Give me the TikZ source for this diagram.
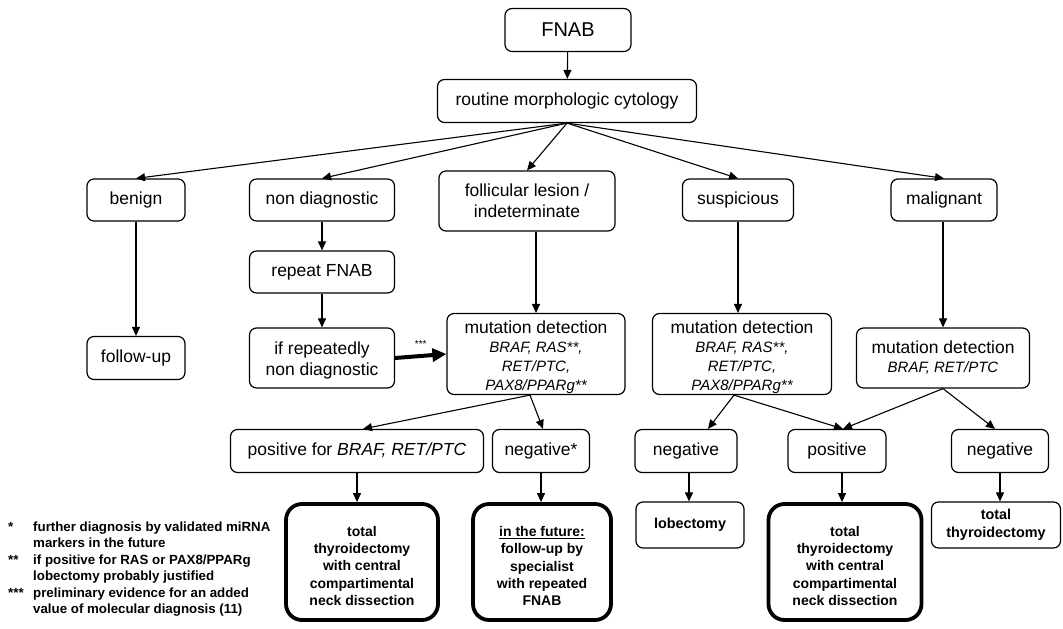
\documentclass[tikz,border=0pt]{standalone}
\usepackage{fontspec}
\setmainfont{Liberation Sans}
\usetikzlibrary{arrows.meta}

\begin{document}
\begin{tikzpicture}[x=1pt, y=-1pt,
      b/.style={draw, line width=1.2pt, rounded corners=7pt, inner sep=0pt, align=center, font=\fontsize{17.5}{21}\selectfont},
      bb/.style={draw, line width=3.8pt, rounded corners=16pt, inner sep=0pt, align=center, font=\bfseries\fontsize{14}{17.3}\selectfont},
      sb/.style={b, font=\bfseries\fontsize{14.4}{17.5}\selectfont},
      mut/.style={b, font=\itshape\fontsize{15}{19}\selectfont},
      nb/.style={font=\bfseries\fontsize{13.3}{16.5}\selectfont, align=left, inner sep=0pt},
      ar/.style={-{Triangle[length=9pt, width=8pt]}, line width=1.1pt},
      tar/.style={-{Triangle[length=14pt, width=13pt]}, line width=4pt}]
    \useasboundingbox (0,0) rectangle (1063,629);
    \node[b, minimum width=126pt, minimum height=43pt, font=\fontsize{20}{24}\selectfont] (fnab) at (568,30) {FNAB};
    \node[b, minimum width=259pt, minimum height=43pt] (cyt) at (567,101) {routine morphologic cytology};
    \node[b, minimum width=98pt, minimum height=42pt] (ben) at (136,200) {benign};
    \node[b, minimum width=145pt, minimum height=42pt] (nd) at (322,200) {non diagnostic};
    \node[b, minimum width=176pt, minimum height=60pt] (fol) at (527,201) {follicular lesion /\\indeterminate};
    \node[b, minimum width=111pt, minimum height=42pt] (sus) at (738,200) {suspicious};
    \node[b, minimum width=106pt, minimum height=42pt] (mal) at (944,200) {malignant};
    \node[b, minimum width=145pt, minimum height=42pt] (rep) at (322,272) {repeat FNAB};
    \node[b, minimum width=145pt, minimum height=60pt] (rep2) at (322,358) {\rule{0pt}{17pt}if repeatedly\\non diagnostic};
    \node[b, minimum width=98pt, minimum height=43pt] (fu) at (136,358) {follow-up};
    \node[mut, minimum width=178pt, minimum height=81pt] (mut1) at (536,354) {{\upshape\fontsize{17.5}{19}\selectfont\rule{0pt}{20pt}mutation detection}\\BRAF, RAS**,\\RET/PTC,\\PAX8/PPARg**};
    \node[mut, minimum width=179pt, minimum height=81pt] (mut2) at (742,354) {{\upshape\fontsize{17.5}{19}\selectfont\rule{0pt}{20pt}mutation detection}\\BRAF, RAS**,\\RET/PTC,\\PAX8/PPARg**};
    \node[mut, minimum width=173pt, minimum height=60pt] (mut3) at (943,358) {{\upshape\fontsize{17.5}{19}\selectfont mutation detection}\\BRAF, RET/PTC};
    \node[b, minimum width=253pt, minimum height=43pt] (pbraf) at (357,451) {positive for \textit{BRAF, RET/PTC}};
    \node[b, minimum width=97pt, minimum height=43pt] (negs) at (541,451) {negative*};
    \node[b, minimum width=102pt, minimum height=43pt] (neg1) at (686,451) {negative};
    \node[b, minimum width=98pt, minimum height=43pt] (pos) at (837,451) {positive};
    \node[b, minimum width=97pt, minimum height=43pt] (neg2) at (1000,451) {negative};
    \node[bb, minimum width=152pt, minimum height=116pt] (tt1) at (362,562) {\rule{0pt}{18pt}total\\thyroidectomy\\with central\\compartimental\\neck dissection};
    \node[bb, minimum width=138pt, minimum height=116pt] (fut) at (542,562) {\rule{0pt}{18pt}\underline{in the future:}\\follow-up by\\specialist\\with repeated\\FNAB};
    \node[sb, minimum width=108pt, minimum height=46pt] (lob) at (690,525) {lobectomy};
    \node[bb, minimum width=153pt, minimum height=116pt] (tt2) at (845,562) {\rule{0pt}{18pt}total\\thyroidectomy\\with central\\compartimental\\neck dissection};
    \node[sb, minimum width=129pt, minimum height=46pt] (tt3) at (996,525) {total\\thyroidectomy};
    \node[nb, anchor=base west] (s1) at (8,531) {*};
    \node[nb, anchor=base west] (t1) at (33,547.5) {further diagnosis by validated miRNA\\markers in the future};
    \node[nb, anchor=base west] (s2) at (8,564) {**};
    \node[nb, anchor=base west] (t2) at (33,580.5) {if positive for RAS or PAX8/PPARg\\lobectomy probably justified};
    \node[nb, anchor=base west] (s3) at (8,597) {***};
    \node[nb, anchor=base west] (t3) at (33,613.5) {preliminary evidence for an added\\value of molecular diagnosis (11)};
    \draw[ar] (fnab) -- (cyt);
    \draw[ar] (cyt.south) -- (ben.north); \draw[ar] (cyt.south) -- (nd.north); \draw[ar] (cyt.south) -- (fol.north);
    \draw[ar] (cyt.south) -- (sus.north); \draw[ar] (cyt.south) -- (mal.north);
    \draw[ar] (ben) -- (fu); \draw[ar] (nd) -- (rep); \draw[ar] (rep) -- (rep2);
    \draw[ar] (fol.south -| mut1.north) -- (mut1.north); \draw[ar] (sus.south) -- (sus.south |- mut2.north); \draw[ar] (mal.south -| mut3.north) -- (mut3.north);
    \draw[tar] (rep2.east) -- node[above=3pt, font=\fontsize{10}{12}\selectfont] (st) {***} (mut1.west);
    \draw[ar] ([xshift=-6pt]mut1.south) -- ([xshift=6pt]pbraf.north); \draw[ar] ([xshift=-6pt]mut1.south) -- ([xshift=2pt]negs.north);
    \draw[ar] ([xshift=-8pt]mut2.south) -- ([xshift=22pt]neg1.north); \draw[ar] ([xshift=-8pt]mut2.south) -- ([xshift=6pt]pos.north);
    \draw[ar] (mut3.south) -- ([xshift=6pt]pos.north); \draw[ar] (mut3.south) -- ([xshift=-5pt]neg2.north);
    \draw[ar] (pbraf) -- (pbraf |- tt1.north); \draw[ar] (negs) -- (negs |- fut.north);
    \draw[ar] ([xshift=3pt]neg1.south) -- ([xshift=3pt]neg1.south |- lob.north); \draw[ar] ([xshift=5pt]pos.south) -- ([xshift=5pt]pos.south |- tt2.north);
    \draw[ar] (neg2.south) -- (neg2.south |- tt3.north);
  \end{tikzpicture}
\end{document}
